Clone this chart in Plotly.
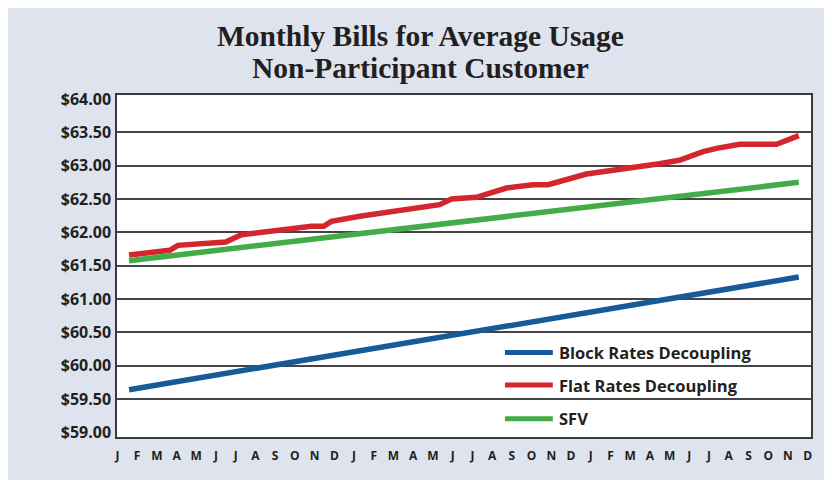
import plotly.graph_objects as go

# Monatsbuchstaben (3 Jahre)
months = ["J", "F", "M", "A", "M", "J", "J", "A", "S", "O", "N", "D"] * 3
month_pos = list(range(len(months)))

series_names = ["Block Rates Decoupling", "Flat Rates Decoupling", "SFV"]
series_colors = ["#175a98", "#d4262d", "#43ac49"]

# x = Monatsindex, y = Rechnung in $
block_x = [0.59, 34.55]
block_y = [59.64, 61.33]

flat_x = [0.59, 2.65, 3.07, 5.49, 6.29, 9.84, 10.46, 10.85, 12.29, 16.34, 16.94,
          18.2, 19.73, 21.08, 21.84, 23.78, 27.48, 28.49, 29.70, 30.38, 31.56,
          33.42, 34.55]
flat_y = [61.66, 61.73, 61.805, 61.855, 61.965, 62.09, 62.09, 62.165, 62.24, 62.415,
          62.50, 62.525, 62.665, 62.715, 62.715, 62.875, 63.03, 63.08, 63.21, 63.26,
          63.32, 63.32, 63.45]

sfv_x = [0.59, 34.55]
sfv_y = [61.575, 62.75]

y_ticks = [59.0, 59.5, 60.0, 60.5, 61.0, 61.5, 62.0, 62.5, 63.0, 63.5, 64.0]
y_grid = [59.5, 60.0, 60.5, 61.0, 61.5, 62.0, 62.5, 63.0, 63.5]

title_lines = ["Monthly Bills for Average Usage", "Non-Participant Customer"]

panel = "#dee3ee"
ink = "#231f20"

fig = go.Figure()
for name, xs, ys, col in zip(series_names, [block_x, flat_x, sfv_x],
                             [block_y, flat_y, sfv_y], series_colors):
    fig.add_trace(go.Scatter(x=xs, y=ys, mode="lines", name=name,
                             line=dict(color=col, width=5.5), showlegend=False))

# eigene Legende
leg_y = [0.247, 0.152, 0.053]
for name, col, ly in zip(series_names, series_colors, leg_y):
    fig.add_shape(type="line", xref="paper", yref="paper", x0=0.559, x1=0.628,
                  y0=ly, y1=ly, line=dict(color=col, width=5))
    fig.add_annotation(xref="paper", yref="paper", x=0.634, y=ly, text=name,
                       showarrow=False, xanchor="left", yanchor="middle",
                       font=dict(family="Open Sans", size=16.5, color=ink,
                                 weight="bold"))

# Titel in zwei Zeilen
for line, ty in zip(title_lines, [1.172, 1.078]):
    fig.add_annotation(xref="paper", yref="paper", x=0.4366, y=ty,
                       yanchor="middle", showarrow=False, text=line,
                       font=dict(family="Liberation Serif", size=29.5, color=ink,
                                 weight="bold"))

fig.update_layout(
    width=824, height=472,
    margin=dict(l=109, r=21, t=87, b=43),
    paper_bgcolor=panel,
    plot_bgcolor="white",
)
fig.update_xaxes(
    range=[-0.02, 35.17], tickvals=month_pos, ticktext=months,
    showgrid=False, zeroline=False, showline=True, mirror=True,
    linecolor="#3a3a3a", linewidth=1.5,
    ticks="outside", ticklen=7, tickcolor="rgba(0,0,0,0)",
    tickfont=dict(family="Open Sans", size=12, color=ink, weight="bold"),
)
fig.update_yaxes(
    range=[58.93, 64.06], tickvals=y_ticks,
    ticktext=["$%.2f" % v for v in y_ticks],
    showgrid=False, zeroline=False, showline=True, mirror=True,
    linecolor="#3a3a3a", linewidth=1.5,
    ticks="outside", ticklen=1, tickcolor="rgba(0,0,0,0)",
    tickfont=dict(family="Open Sans", size=16, color=ink, weight="bold"),
    minor=dict(tickvals=y_grid, showgrid=True, gridcolor="#444444", gridwidth=1.5),
)

fig.write_html("out.html")
